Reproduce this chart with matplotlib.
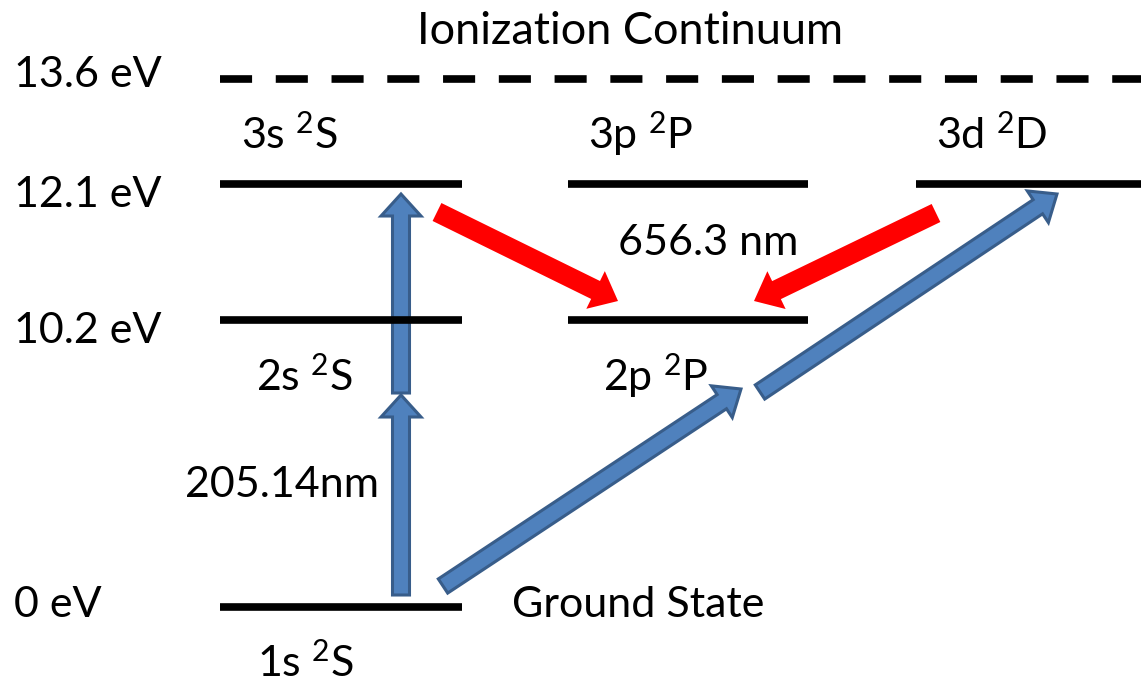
import matplotlib.pyplot as plt
from matplotlib.patches import FancyArrow

plt.rcParams["mathtext.fontset"] = "custom"
plt.rcParams["mathtext.rm"] = "Lato"
plt.rcParams["mathtext.it"] = "Lato:italic"

# energy levels (eV) and their labels
ENERGIES = [0.0, 10.2, 12.1, 13.6]
ENERGY_LABELS = ["0 eV", "10.2 eV", "12.1 eV", "13.6 eV"]
TERMS_N1 = ["1s $^\\mathrm{2}$S"]
TERMS_N2 = ["2s $^\\mathrm{2}$S", "2p $^\\mathrm{2}$P"]
TERMS_N3 = ["3s $^\\mathrm{2}$S", "3p $^\\mathrm{2}$P", "3d $^\\mathrm{2}$D"]
LASER_LABEL = "205.14nm"
BALMER_LABEL = "656.3 nm"
CONTINUUM_LABEL = "Ionization Continuum"
GROUND_LABEL = "Ground State"

# layout (pixel-like diagram units, y grows downward)
W, H = 1141, 682
ROW_Y = {0.0: 607, 10.2: 320, 12.1: 184, 13.6: 79}
LABEL_BASE = {0.0: 617, 10.2: 343, 12.1: 207, 13.6: 87}
COLS = [(220, 462), (568, 808), (916, 1141)]
FONT = ["Lato", "DejaVu Sans"]
FS = 31

BLUE = "#4F81BD"
BLUE_EDGE = "#385D8A"
RED = "#FF0000"

fig = plt.figure(figsize=(W / 100, H / 100), dpi=100)
ax = fig.add_axes([0, 0, 1, 1])
ax.set_xlim(0, W)
ax.set_ylim(H, 0)
ax.axis("off")

# levels
ax.plot(COLS[0], [ROW_Y[0.0]] * 2, color="black", lw=5.5, solid_capstyle="butt")
for c in COLS[:2]:
    ax.plot(c, [ROW_Y[10.2]] * 2, color="black", lw=5.5, solid_capstyle="butt")
for c in COLS:
    ax.plot(c, [ROW_Y[12.1]] * 2, color="black", lw=5.5, solid_capstyle="butt")
ax.plot([220, W], [ROW_Y[13.6]] * 2, color="black", lw=5.5, dashes=(4.2, 3.1),
        solid_capstyle="butt", dash_capstyle="butt")

txt = dict(fontsize=FS, family=FONT, ha="left", va="baseline")

# energy labels on the left
for e, lab in zip(ENERGIES, ENERGY_LABELS):
    ax.text(14, LABEL_BASE[e], lab, **txt)

ax.text(630, 44, CONTINUUM_LABEL, fontsize=32.5, family=FONT, ha="center", va="baseline")
for x, t in zip([241, 588, 936], TERMS_N3):
    ax.text(x, 149, t, **txt)
for x, t in zip([256, 603], TERMS_N2):
    ax.text(x, 391, t, **txt)
ax.text(257, 677, TERMS_N1[0], **txt)
ax.text(512, 617, GROUND_LABEL, **txt)
ax.text(185, 497, LASER_LABEL, **txt)
ax.text(618, 255, BALMER_LABEL, **txt)


def arrow(x0, y0, x1, y1, color, edge, width, hw, hl, lw):
    a = FancyArrow(x0, y0, x1 - x0, y1 - y0, width=width, head_width=hw,
                   head_length=hl, length_includes_head=True,
                   facecolor=color, edgecolor=edge, linewidth=lw, joinstyle="miter")
    ax.add_patch(a)


# two-photon excitation (blue)
arrow(401, 595, 401, 395, BLUE, BLUE_EDGE, 17, 40, 22, 2.2)
arrow(401, 393, 401, 194, BLUE, BLUE_EDGE, 17, 40, 22, 2.2)
arrow(443, 586, 741, 389, BLUE, BLUE_EDGE, 17, 38, 23, 2.2)
arrow(760, 392, 1057, 194, BLUE, BLUE_EDGE, 17, 38, 23, 2.2)

# Balmer-alpha decay (red)
arrow(437, 212, 618, 301, RED, RED, 20, 42, 25, 0)
arrow(936, 213, 754, 301, RED, RED, 20, 42, 25, 0)

fig.savefig("out.png", dpi=100)
